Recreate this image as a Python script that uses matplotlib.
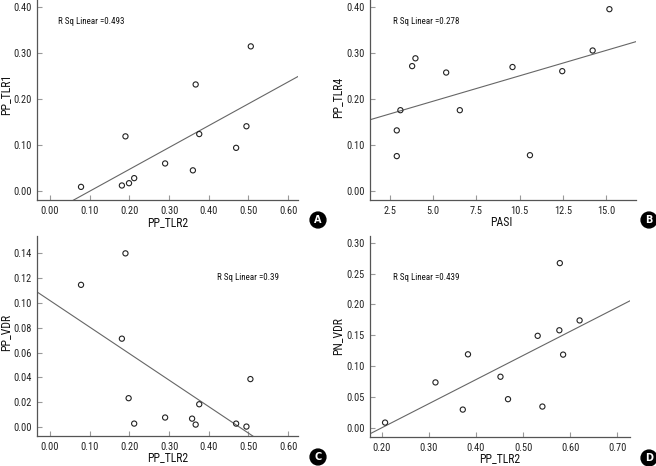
import numpy as np
import matplotlib
matplotlib.use("Agg")
import matplotlib.pyplot as plt
from matplotlib import font_manager

_names = {f.name for f in font_manager.fontManager.ttflist}
_narrow = [n for n in ['Liberation Sans Narrow', 'Arial Narrow', 'Roboto Condensed', 'Open Sans Condensed'] if n in _names]
if _narrow:
    plt.rcParams['font.family'] = [_narrow[0], 'DejaVu Sans']
    STRETCH = 'normal'
else:
    plt.rcParams['font.family'] = ['DejaVu Sans']
    STRETCH = 'condensed'
plt.rcParams['font.stretch'] = STRETCH

# Panel A: PP_TLR2 vs PP_TLR1
a_x = [0.078, 0.181, 0.199, 0.212, 0.190, 0.290, 0.360, 0.367, 0.376, 0.469, 0.495, 0.506]
a_y = [0.009, 0.012, 0.017, 0.028, 0.119, 0.060, 0.045, 0.232, 0.124, 0.094, 0.141, 0.315]
# Panel B: PASI vs PP_TLR4
b_x = [2.89, 2.89, 3.10, 3.78, 3.97, 5.75, 6.54, 9.59, 10.6, 12.47, 14.23, 15.2]
b_y = [0.076, 0.132, 0.176, 0.272, 0.289, 0.258, 0.176, 0.270, 0.078, 0.261, 0.306, 0.396]
# Panel C: PP_TLR2 vs PP_VDR
c_x = [0.078, 0.190, 0.181, 0.198, 0.212, 0.290, 0.358, 0.367, 0.376, 0.469, 0.495, 0.505]
c_y = [0.1146, 0.140, 0.0712, 0.0232, 0.0027, 0.0076, 0.0067, 0.0019, 0.0183, 0.0027, 0.0003, 0.0386]
# Panel D: PP_TLR2 vs PN_VDR
d_x = [0.207, 0.314, 0.372, 0.383, 0.452, 0.468, 0.531, 0.541, 0.577, 0.578, 0.585, 0.620]
d_y = [0.0082, 0.0734, 0.0293, 0.119, 0.0826, 0.0462, 0.149, 0.0342, 0.158, 0.267, 0.1185, 0.174]

r2_labels = ["R Sq Linear =0.493", "R Sq Linear =0.278", "R Sq Linear =0.39", "R Sq Linear =0.439"]
panel_letters = ["A", "B", "C", "D"]

a_xticks = [0.0, 0.1, 0.2, 0.3, 0.4, 0.5, 0.6]
a_yticks = [0.0, 0.1, 0.2, 0.3, 0.4]
b_xticks = [2.5, 5.0, 7.5, 10.0, 12.5, 15.0]
b_xticklabels = ["2.5", "5.0", "7.5", "10.5", "12.5", "15.0"]
c_yticks = [0.0, 0.02, 0.04, 0.06, 0.08, 0.10, 0.12, 0.14]
d_xticks = [0.2, 0.3, 0.4, 0.5, 0.6, 0.7]
d_yticks = [0.0, 0.05, 0.10, 0.15, 0.20, 0.25, 0.30]

W, H = 656, 466
fig = plt.figure(figsize=(W / 100, H / 100), dpi=100)

def rect(l, r, t, b):
    return [l / W, (H - b) / H, (r - l) / W, (b - t) / H]

def fpos(px, py):
    return px / W, 1 - py / H

spine_c = '#555555'
tick_c = '#999999'

def setup(ax, x, y, xlim, ylim, xticks, xtl, yticks, ytl, xlabel, xlpos, ylabel, ylpos, r2, r2pos, letter, letterpos):
    ax.scatter(x, y, s=14, facecolors='none', edgecolors='#222222', linewidths=0.8, zorder=3)
    k, b0 = np.polyfit(x, y, 1)
    xs = np.array(xlim)
    ax.plot(xs, k * xs + b0, color='#666666', lw=0.8, zorder=2)
    ax.set_xlim(xlim)
    ax.set_ylim(ylim)
    ax.set_xticks(xticks)
    ax.set_xticklabels(xtl)
    ax.set_yticks(yticks)
    ax.set_yticklabels(ytl)
    for s in ['top', 'right']:
        ax.spines[s].set_visible(False)
    for s in ['left', 'bottom']:
        ax.spines[s].set_color(spine_c)
        ax.spines[s].set_linewidth(0.9)
    ax.tick_params(direction='in', length=3.5, width=0.8, color=tick_c, labelsize=7.5, labelcolor='#222222', pad=4)
    fig.text(*fpos(*xlpos), xlabel, fontsize=8.5, ha='center', va='center', color='#111111')
    fig.text(*fpos(*ylpos), ylabel, fontsize=8.5, ha='center', va='center', rotation=90, color='#111111')
    fig.text(*fpos(*r2pos), r2, fontsize=6.5, va='center', ha='left', color='#111111')
    fig.text(*fpos(*letterpos), letter, color='white', fontsize=7, fontweight='bold',
             family=['DejaVu Sans'], ha='center', va='center',
             bbox=dict(boxstyle='circle,pad=0.3', fc='black', ec='black'))

fmt2 = lambda v: f"{v:.2f}"

axA = fig.add_axes(rect(37, 298, 0, 200))
setup(axA, a_x, a_y, (-0.033, 0.625), (-0.0196, 0.416), a_xticks, [fmt2(v) for v in a_xticks],
      a_yticks, [fmt2(v) for v in a_yticks], "PP_TLR2", (168, 223), "PP_TLR1", (6, 94),
      r2_labels[0], (58, 22), panel_letters[0], (318, 220))

axB = fig.add_axes(rect(370, 636, 0, 200))
setup(axB, b_x, b_y, (1.34, 16.74), (-0.0196, 0.416), b_xticks, b_xticklabels,
      a_yticks, [fmt2(v) for v in a_yticks], "PASI", (501, 223), "PP_TLR4", (338, 97),
      r2_labels[1], (393, 22), panel_letters[1], (649, 220))

axC = fig.add_axes(rect(37, 298, 236, 436))
setup(axC, c_x, c_y, (-0.033, 0.625), (-0.0073, 0.154), a_xticks, [fmt2(v) for v in a_xticks],
      c_yticks, [fmt2(v) for v in c_yticks], "PP_TLR2", (168, 458), "PP_VDR", (6, 332),
      r2_labels[2], (217, 277), panel_letters[2], (318, 457))

axD = fig.add_axes(rect(370, 630, 236, 437))
setup(axD, d_x, d_y, (0.175, 0.727), (-0.0152, 0.311), d_xticks, [fmt2(v) for v in d_xticks],
      d_yticks, [fmt2(v) for v in d_yticks], "PP_TLR2", (500, 459), "PN_VDR", (338, 336),
      r2_labels[3], (393, 277), panel_letters[3], (649, 458))

fig.savefig("out.png", dpi=100)
